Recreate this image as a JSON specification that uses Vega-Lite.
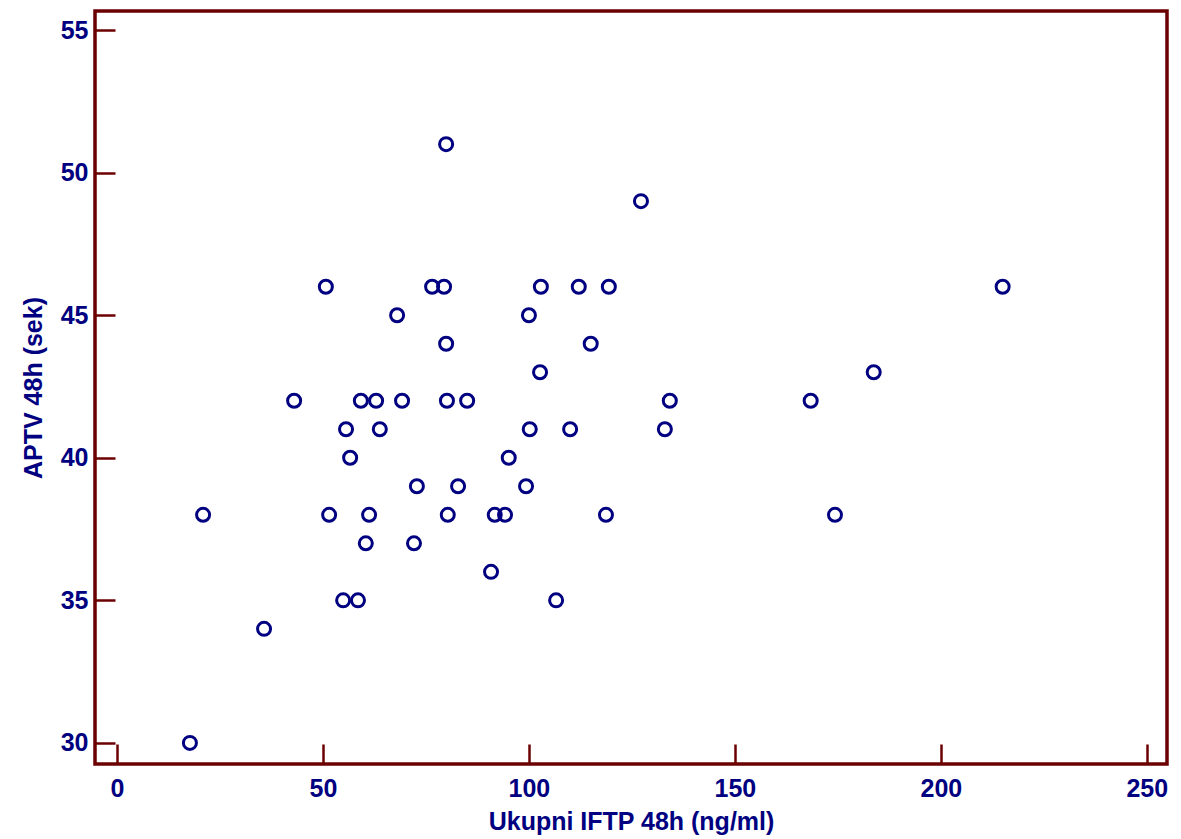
{
  "$schema": "https://vega.github.io/schema/vega-lite/v6.json",
  "width": 1072,
  "height": 753,
  "autosize": {"type": "none"},
  "padding": {"left": 95, "top": 11, "right": 14, "bottom": 75},
  "background": "white",
  "config": {"view": {"stroke": "#6B0000", "strokeWidth": 3.5}},
  "data": {"values": [
    {"x": 79.9, "y": 51}, {"x": 127.2, "y": 49}, {"x": 50.7, "y": 46}, {"x": 76.5, "y": 46},
    {"x": 79.4, "y": 46}, {"x": 102.9, "y": 46}, {"x": 112.1, "y": 46}, {"x": 119.4, "y": 46},
    {"x": 215, "y": 46}, {"x": 68, "y": 45}, {"x": 100, "y": 45}, {"x": 79.9, "y": 44},
    {"x": 115, "y": 44}, {"x": 102.7, "y": 43}, {"x": 183.7, "y": 43}, {"x": 43, "y": 42},
    {"x": 59.2, "y": 42}, {"x": 62.9, "y": 42}, {"x": 69.2, "y": 42}, {"x": 80.1, "y": 42},
    {"x": 85, "y": 42}, {"x": 134.2, "y": 42}, {"x": 168.4, "y": 42}, {"x": 55.6, "y": 41},
    {"x": 63.8, "y": 41}, {"x": 100.2, "y": 41}, {"x": 110, "y": 41}, {"x": 133, "y": 41},
    {"x": 56.6, "y": 40}, {"x": 95.1, "y": 40}, {"x": 72.8, "y": 39}, {"x": 82.8, "y": 39},
    {"x": 99.3, "y": 39}, {"x": 20.9, "y": 38}, {"x": 51.5, "y": 38}, {"x": 61.2, "y": 38},
    {"x": 80.3, "y": 38}, {"x": 91.7, "y": 38}, {"x": 94.2, "y": 38}, {"x": 118.7, "y": 38},
    {"x": 174.3, "y": 38}, {"x": 60.4, "y": 37}, {"x": 72.1, "y": 37}, {"x": 90.8, "y": 36},
    {"x": 54.9, "y": 35}, {"x": 58.5, "y": 35}, {"x": 106.6, "y": 35}, {"x": 35.7, "y": 34},
    {"x": 17.7, "y": 30}
  ]},
  "mark": {"type": "point", "shape": "circle", "filled": false, "color": "#000080", "strokeWidth": 3, "size": 170, "opacity": 1},
  "encoding": {
    "x": {
      "field": "x", "type": "quantitative",
      "scale": {"domain": [-5.34, 254.9], "nice": false, "zero": false},
      "axis": {
        "values": [0, 50, 100, 150, 200, 250], "domain": false, "grid": false,
        "tickColor": "#6B0000", "tickWidth": 2.5, "tickSize": -20,
        "labelFont": "Liberation Sans", "labelFontWeight": "bold", "labelFontSize": 25,
        "labelColor": "#000080", "labelPadding": 32,
        "title": "Ukupni IFTP 48h (ng/ml)", "titleFont": "Liberation Sans", "titleFontWeight": "bold",
        "titleFontSize": 25, "titleColor": "#000080", "titlePadding": 8
      }
    },
    "y": {
      "field": "y", "type": "quantitative",
      "scale": {"domain": [29.26, 55.67], "nice": false, "zero": false},
      "axis": {
        "values": [30, 35, 40, 45, 50, 55], "domain": false, "grid": false,
        "tickColor": "#6B0000", "tickWidth": 2.5, "tickSize": -20,
        "labelFont": "Liberation Sans", "labelFontWeight": "bold", "labelFontSize": 25,
        "labelColor": "#000080", "labelPadding": 27,
        "title": "APTV 48h (sek)", "titleFont": "Liberation Sans", "titleFontWeight": "bold",
        "titleFontSize": 25, "titleColor": "#000080", "titlePadding": 14
      }
    }
  }
}
